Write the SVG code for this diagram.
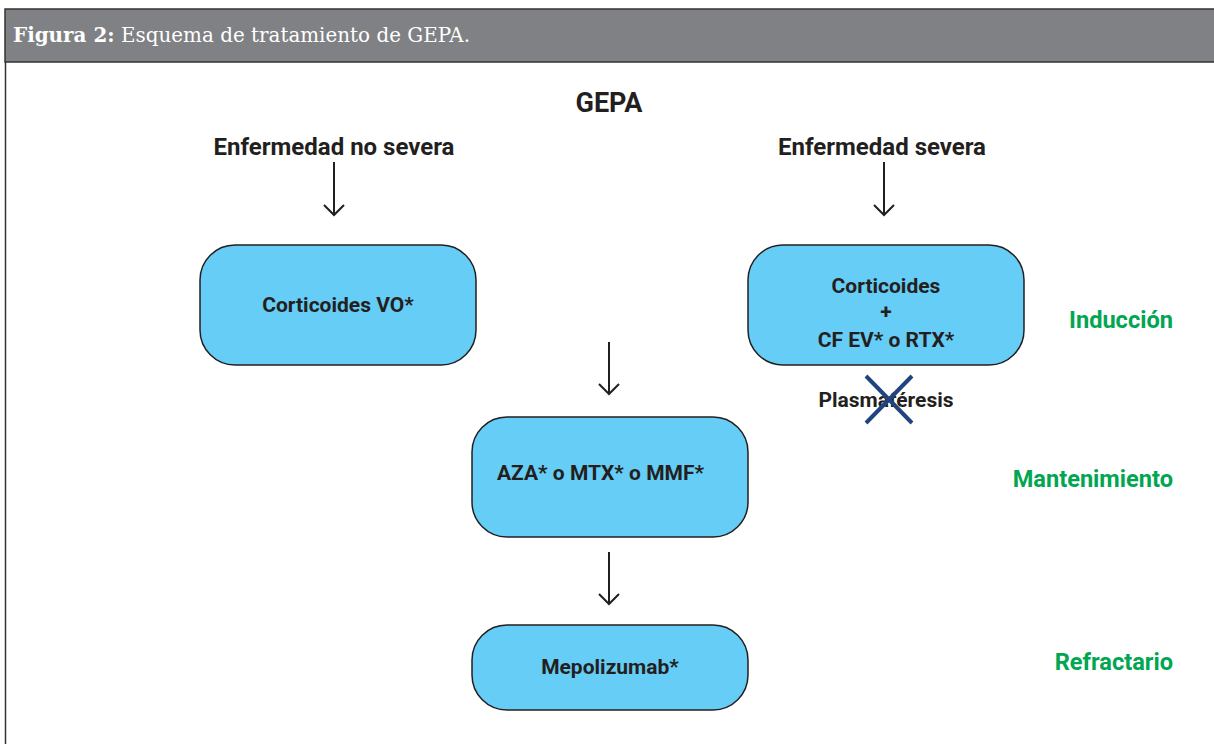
<svg xmlns="http://www.w3.org/2000/svg" width="1214" height="744" viewBox="0 0 1214 744">
<defs>
<style>
.box{fill:#66cdf6;stroke:#231f20;stroke-width:1.5}
.t{font-family:Roboto,"Liberation Sans",sans-serif;font-weight:bold;fill:#231f20;font-size:21px}
.h{font-size:24px}
.big{font-size:27px}
.g{font-family:Roboto,"Liberation Sans",sans-serif;font-weight:bold;fill:#00a651;font-size:23.6px;text-anchor:end}
.c{text-anchor:middle}
.arr{stroke:#231f20;stroke-width:2;fill:none}
</style>
</defs>
<rect x="0" y="0" width="1214" height="744" fill="#ffffff"/>
<g id="frame">
<rect x="5" y="9" width="1215" height="53" fill="#808184" stroke="#333333" stroke-width="1.5"/>
<line x1="5.5" y1="62" x2="5.5" y2="744" stroke="#333333" stroke-width="1.5"/>
<text x="13" y="42" font-family="'DejaVu Serif','Liberation Serif',serif" font-size="20" fill="#ffffff" textLength="457" lengthAdjust="spacingAndGlyphs"><tspan font-weight="bold">Figura 2:</tspan> Esquema de tratamiento de GEPA.</text>
</g>
<g id="title">
<text class="t c big" x="609" y="112">GEPA</text>
<text class="t c h" x="334" y="155">Enfermedad no severa</text>
<text class="t c h" x="882" y="155">Enfermedad severa</text>
</g>
<g id="connectors">
<path class="arr" d="M334 162V215M324 205L334 215L344 205"/>
<path class="arr" d="M884 162V215M874 205L884 215L894 205"/>
<path class="arr" d="M609 342V394M599 384L609 394L619 384"/>
<path class="arr" d="M609 552V604M599 594L609 604L619 594"/>
</g>
<g id="node-corticoides-vo">
<rect class="box" x="200" y="245" width="276" height="120" rx="35"/>
<text class="t c" x="338" y="312">Corticoides VO*</text>
</g>
<g id="node-corticoides-cf">
<rect class="box" x="748" y="245" width="276" height="120" rx="35"/>
<text class="t c" x="886" y="293">Corticoides</text>
<text class="t c" x="886" y="319">+</text>
<text class="t c" x="886" y="347">CF EV* o RTX*</text>
</g>
<g id="node-plasmaferesis">
<text class="t c" x="886" y="407">Plasmaféresis</text>
<path d="M866 376L912 423M912 376L866 423" stroke="#1f447e" stroke-width="4"/>
</g>
<g id="node-mantenimiento">
<rect class="box" x="472" y="417" width="276" height="120" rx="35"/>
<text class="t" x="497" y="480">AZA* o MTX* o MMF*</text>
</g>
<g id="node-mepolizumab">
<rect class="box" x="472" y="625" width="276" height="85" rx="35"/>
<text class="t c" x="610" y="674">Mepolizumab*</text>
</g>
<g id="phases">
<text class="g" x="1173" y="328">Inducción</text>
<text class="g" x="1173" y="487">Mantenimiento</text>
<text class="g" x="1173" y="670">Refractario</text>
</g>
</svg>
